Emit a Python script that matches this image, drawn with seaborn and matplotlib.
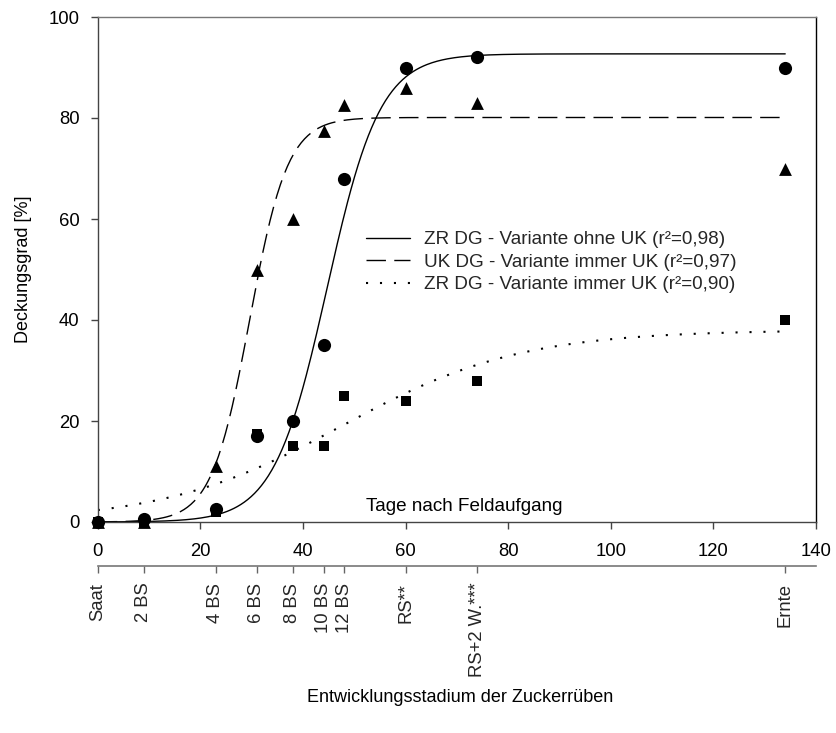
import numpy as np
import pandas as pd
import matplotlib
matplotlib.use("Agg")
import matplotlib.pyplot as plt
import seaborn as sns

sns.set_theme(style="ticks")
plt.rcParams["font.family"] = ["Liberation Sans", "DejaVu Sans"]

# Days after field emergence at each sampling date
days = [0, 9, 23, 31, 38, 44, 48, 60, 74, 134]
stage_labels = ["Saat", "2 BS", "4 BS", "6 BS", "8 BS", "10 BS", "12 BS",
                "RS**", "RS+2 W.***", "Ernte"]

# Ground cover [%]
zr_ohne_uk = [0, 0.5, 2.5, 17, 20, 35, 68, 90, 92, 90]
uk_immer_uk = [0, 0, 11, 50, 60, 77.5, 82.5, 86, 83, 70]
zr_immer_uk = [0, 0, 2, 17.5, 15, 15, 25, 24, 28, 40]

# Fitted 3-parameter sigmoid curves: a / (1 + exp(-(x - x0) / b))
fit_zr_ohne_uk = [92.7, 5.18, 44.7]
fit_uk_immer_uk = [80.1, 3.71, 29.6]
fit_zr_immer_uk = [38.0, 17.5, 47.5]

legend_labels = [
    "ZR DG - Variante ohne UK (r²=0,98)",
    "UK DG - Variante immer UK (r²=0,97)",
    "ZR DG - Variante immer UK (r²=0,90)",
]


def sigmoid(x, p):
    a, b, x0 = p
    return a / (1.0 + np.exp(-(x - x0) / b))


W, H = 837, 733
fig = plt.figure(figsize=(W / 100, H / 100), dpi=100)
ax = fig.add_axes([97.8 / W, 1 - 522 / H, 718.2 / W, 505 / H])

xs = np.linspace(0, 134, 400)
curve_df = pd.DataFrame({
    "x": xs,
    "zr_ohne": sigmoid(xs, fit_zr_ohne_uk),
    "uk_immer": sigmoid(xs, fit_uk_immer_uk),
    "zr_immer": sigmoid(xs, fit_zr_immer_uk),
})

handles = []
sns.lineplot(data=curve_df, x="x", y="zr_ohne", ax=ax, color="black",
             linewidth=1.0, linestyle="-")
handles.append(ax.lines[-1])
sns.lineplot(data=curve_df, x="x", y="uk_immer", ax=ax, color="black",
             linewidth=1.0, linestyle=(0, (14, 6)))
handles.append(ax.lines[-1])
sns.lineplot(data=curve_df, x="x", y="zr_immer", ax=ax, color="black",
             linewidth=1.5, linestyle=(0, (1, 5.7)))
handles.append(ax.lines[-1])

sns.scatterplot(x=days, y=zr_ohne_uk, ax=ax, marker="o", s=90,
                color="black", linewidth=0, clip_on=False, zorder=4)
sns.scatterplot(x=days, y=uk_immer_uk, ax=ax, marker="^", s=85,
                color="black", linewidth=0, clip_on=False, zorder=4)
sns.scatterplot(x=days, y=zr_immer_uk, ax=ax, marker="s", s=62,
                color="black", linewidth=0, clip_on=False, zorder=4)

ax.set_xlim(0, 140)
ax.set_ylim(0, 100)
ax.set_xticks(np.arange(0, 141, 20))
ax.set_yticks(np.arange(0, 101, 20))
ax.tick_params(axis="both", direction="out", length=5, width=1,
               color="#444444", labelsize=13.3, labelcolor="black")
ax.tick_params(axis="x", pad=10)
ax.tick_params(axis="y", pad=8)
ax.set_xlabel("")
ax.set_ylabel("Deckungsgrad [%]", fontsize=13, color="black")
ax.yaxis.set_label_coords(-0.092, 0.5)

for side in ["left", "bottom", "top", "right"]:
    ax.spines[side].set_visible(True)
    ax.spines[side].set_linewidth(1.0)
ax.spines["left"].set_color("#444444")
ax.spines["bottom"].set_color("#444444")
ax.spines["top"].set_color("#777777")
ax.spines["right"].set_color("black")

ax.text(90.5, 3, "Tage nach Feldaufgang", ha="right", va="center",
        fontsize=13.6, color="black")

leg = ax.legend(handles, legend_labels, loc="upper left",
                bbox_to_anchor=(366 / W, 1 - 231 / H),
                bbox_transform=fig.transFigure, frameon=False,
                fontsize=13.6, handlelength=2.35, handletextpad=0.7,
                labelspacing=0.28, borderpad=0, borderaxespad=0)

# Second axis below: development stages of the sugar beet
sec = ax.secondary_xaxis(-44 / 505)
sec.set_xticks(days)
sec.set_xticklabels(stage_labels, rotation=90, fontsize=13.3)
sec.tick_params(axis="x", direction="out", length=5, width=1,
                color="#666666", pad=7)
sec.spines["bottom"].set_color("#777777")
sec.spines["bottom"].set_linewidth(1.2)

fig.text(460 / W, 1 - 697 / H, "Entwicklungsstadium der Zuckerrüben",
         ha="center", va="center", fontsize=13, color="black")

fig.savefig("out.png", dpi=100)
